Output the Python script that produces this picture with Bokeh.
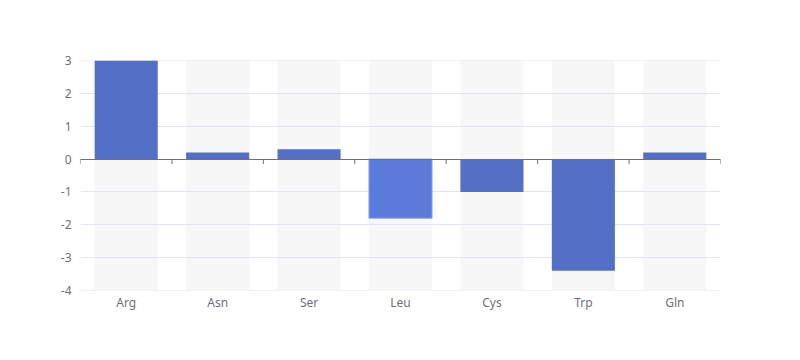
from bokeh.plotting import figure
from bokeh.models import ColumnDataSource, Range1d, FactorRange, PrintfTickFormatter
from bokeh.transform import dodge
from bokeh.embed import file_html
from bokeh.resources import INLINE

categories = ["Arg", "Asn", "Ser", "Leu", "Cys", "Trp", "Gln"]
values = [3, 0.2, 0.3, -1.8, -1, -3.4, 0.2]
y_ticks = [-4, -3, -2, -1, 0, 1, 2, 3]
highlight = "Leu"

FONT = "Noto Sans"
LABEL = "#6e7079"

p = figure(frame_width=640, frame_height=230, output_backend="svg", toolbar_location=None,
           x_range=FactorRange(*categories, range_padding=0),
           y_range=Range1d(min(y_ticks), max(y_ticks)),
           min_border_left=80, min_border_right=72, min_border_top=60, min_border_bottom=40)
p.outline_line_color = None
p.xgrid.grid_line_color = None
p.ygrid.grid_line_color = None

colors = ["#5a7bd9" if c == highlight else "#5470c6" for c in categories]
lines = ["#8fa3e9" if c == highlight else None for c in categories]
src = ColumnDataSource(dict(cat=categories, val=values, color=colors, lc=lines,
                            top=[max(y_ticks)] * len(categories),
                            bot=[min(y_ticks)] * len(categories)))

# background bands
p.vbar(x="cat", top="top", bottom="bot", width=0.69, source=src,
       fill_color="#b4b4b4", fill_alpha=0.1, line_color=None)
# horizontal grid lines
p.hspan(y=[t for t in y_ticks if t != 0], line_color="#e0e6f1", line_width=1)
# bars
p.vbar(x="cat", top="val", bottom=0, width=0.69, source=src,
       fill_color="color", line_color="lc", line_width=1)
# zero axis line
p.hspan(y=[0], line_color=LABEL, line_width=1)
# ticks at category boundaries
tick_src = ColumnDataSource(dict(cat=categories))
p.segment(x0=dodge("cat", -0.5, range=p.x_range), y0=0,
          x1=dodge("cat", -0.5, range=p.x_range), y1=-0.15,
          source=tick_src, line_color=LABEL, line_width=1)
p.segment(x0=dodge("cat", 0.5, range=p.x_range), y0=0,
          x1=dodge("cat", 0.5, range=p.x_range), y1=-0.15,
          source=ColumnDataSource(dict(cat=[categories[-1]])), line_color=LABEL, line_width=1)

p.yaxis.ticker = y_ticks
p.yaxis.formatter = PrintfTickFormatter(format="%d")
for ax in (p.xaxis[0], p.yaxis[0]):
    ax.axis_line_color = None
    ax.major_tick_line_color = None
    ax.minor_tick_line_color = None
    ax.major_tick_out = 0
    ax.major_tick_in = 0
    ax.minor_tick_out = 0
    ax.major_label_text_color = LABEL
    ax.major_label_text_font = FONT
    ax.major_label_text_font_size = "12px"
p.yaxis.major_label_standoff = 9
p.xaxis.major_label_standoff = 3

open("out.html", "w").write(file_html(p, INLINE))
